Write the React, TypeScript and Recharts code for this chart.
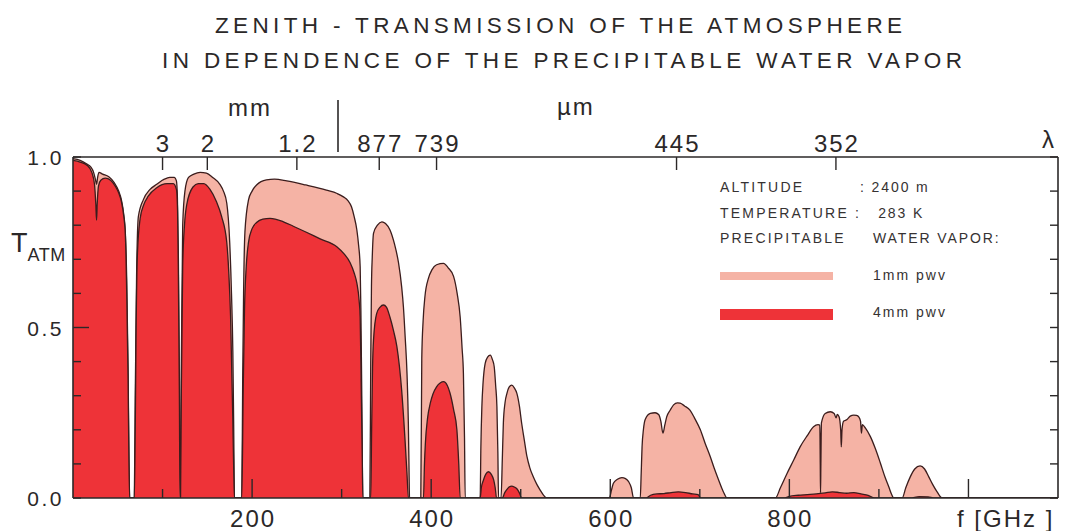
import React from 'react';
import { ComposedChart, Area, XAxis, YAxis } from 'recharts';

const INK = '#2b2828';
const OUTLINE = '#3b1d1d';
const PINK = '#f5b3a5';
const RED = '#ee3338';
const FONT = '"Liberation Sans", Arial, Helvetica, sans-serif';

// Zenith transmission with 1 mm precipitable water vapour: [frequency GHz, transmission]
const PWV_1MM: [number, number][] = [
  [0, 0.995], [8, 0.99], [15, 0.98], [20, 0.97], [23, 0.955], [25, 0.935], [26.3, 0.92], [27.5, 0.94], [29, 0.955], [33, 0.95], [40, 0.942], [46, 0.925], [51, 0.9], [54, 0.875], [56.5, 0.835], [58.5, 0.775], [60, 0.64], [61.5, 0.38], [62.5, 0.12], [63.3, 0],
  [68.5, 0], [69.5, 0.3], [71, 0.65], [73, 0.825], [78.6, 0.875], [86, 0.905], [93.5, 0.92], [102, 0.935], [108, 0.94], [113, 0.94], [115.5, 0.93], [116.6, 0.88], [117.7, 0.7], [118.8, 0.35], [119.5, 0],
  [120.1, 0], [121, 0.4], [122.5, 0.8], [125, 0.9], [129, 0.94], [135, 0.95], [142, 0.955], [149, 0.953], [156, 0.94], [164, 0.92], [168, 0.9], [171.7, 0.865], [175, 0.75], [177, 0.6], [178.5, 0.43], [179.5, 0.2], [180.3, 0],
  [188.5, 0], [189.5, 0.35], [190.5, 0.6], [192, 0.78], [196, 0.874], [200, 0.9], [205, 0.918], [216, 0.933], [225, 0.935], [238.7, 0.93], [260, 0.918], [283, 0.903], [295, 0.893], [302, 0.883], [307, 0.872], [311, 0.854], [314, 0.825], [317, 0.786], [319, 0.74], [320.7, 0.678], [321.5, 0.55], [322.5, 0.3], [323.7, 0],
  [331.5, 0], [332.5, 0.4], [333.3, 0.62], [334.2, 0.707], [335.6, 0.776], [340, 0.8], [345, 0.81], [349, 0.805], [354, 0.786], [359, 0.745], [363.5, 0.69], [367, 0.62], [369, 0.56], [371, 0.47], [373, 0.365], [374.5, 0.22], [375.3, 0.08], [375.8, 0],
  [388.4, 0], [389.5, 0.41], [391, 0.52], [393, 0.59], [397, 0.645], [400.8, 0.669], [406, 0.684], [413.8, 0.688], [419, 0.675], [425, 0.65], [429, 0.6], [432.4, 0.53], [434.5, 0.44], [436, 0.365], [437.2, 0.18], [438, 0],
  [454.7, 0], [455.5, 0.15], [456.6, 0.268], [458, 0.34], [460.3, 0.395], [463, 0.413], [466, 0.419], [468.5, 0.405], [470.4, 0.385], [472, 0.33], [473.4, 0.268], [474.5, 0.13], [475.2, 0],
  [478, 0], [479.5, 0.12], [480.6, 0.22], [482.5, 0.28], [484.6, 0.307], [487, 0.325], [490, 0.331], [493, 0.322], [495.7, 0.307], [498.5, 0.27], [501, 0.22], [504, 0.17], [507, 0.121], [510, 0.09], [514, 0.062], [518, 0.04], [521.8, 0.023], [525, 0.01], [529, 0],
  [599, 0], [601.5, 0.025], [603.5, 0.043], [608, 0.055], [613, 0.06], [617, 0.057], [620.5, 0.048], [623.5, 0.03], [626, 0],
  [633.5, 0], [634.5, 0.07], [635.5, 0.15], [637, 0.2], [639, 0.23], [644.7, 0.248], [650, 0.25], [654, 0.245], [656.5, 0.225], [658.8, 0.19], [661, 0.215], [663, 0.238], [667, 0.258], [670.7, 0.273], [675, 0.279], [678, 0.278], [683, 0.27], [689, 0.258], [694, 0.235], [700.6, 0.2], [706, 0.16], [711.7, 0.121], [716, 0.088], [721, 0.053], [726, 0.02], [730.4, 0],
  [784.4, 0], [790, 0.03], [797.4, 0.072], [805, 0.112], [812, 0.15], [820, 0.183], [827, 0.209], [832, 0.215], [834, 0.214], [834.5, 0.1], [834.8, 0.015], [835.2, 0.1], [835.8, 0.22], [840, 0.248], [845.8, 0.253], [850, 0.248], [852.2, 0.235], [853.5, 0.245], [855.5, 0.238], [857.3, 0.2], [858, 0.15], [858.8, 0.2], [860.5, 0.225], [864.4, 0.23], [868, 0.24], [871.8, 0.243], [875, 0.242], [877.5, 0.238], [879.5, 0.225], [880.5, 0.19], [881.5, 0.215], [885, 0.205], [890.5, 0.18], [896, 0.145], [901.7, 0.102], [907, 0.06], [911, 0.033], [914, 0.012], [916.6, 0],
  [926, 0], [930, 0.03], [935, 0.062], [940, 0.085], [946, 0.094], [951, 0.085], [955.7, 0.062], [960, 0.04], [965, 0.018], [970.6, 0],
  [1100, 0],
];

// Zenith transmission with 4 mm precipitable water vapour: [frequency GHz, transmission]
const PWV_4MM: [number, number][] = [
  [0, 0.99], [8, 0.985], [16, 0.975], [21, 0.955], [24, 0.92], [25.5, 0.86], [26.3, 0.815], [27, 0.86], [28.5, 0.915], [31, 0.932], [36, 0.938], [42, 0.932], [47, 0.915], [51, 0.895], [54, 0.87], [56.5, 0.83], [58.5, 0.77], [60, 0.6], [61.5, 0.35], [62.5, 0.1], [63.3, 0],
  [68.5, 0], [69.5, 0.2], [70.5, 0.5], [72, 0.72], [75, 0.82], [79, 0.86], [84, 0.885], [93.5, 0.91], [105, 0.922], [112, 0.922], [115.5, 0.905], [116.8, 0.84], [117.7, 0.65], [118.8, 0.3], [119.5, 0],
  [120.1, 0], [121, 0.32], [122.5, 0.68], [124.5, 0.8], [127, 0.86], [134, 0.912], [140, 0.922], [146, 0.922], [153, 0.905], [160, 0.87], [166, 0.825], [171.7, 0.75], [174, 0.66], [176, 0.53], [178.4, 0.24], [179.5, 0.08], [180.3, 0],
  [188.5, 0], [190, 0.3], [191.5, 0.55], [193.5, 0.68], [196, 0.75], [200, 0.79], [205, 0.808], [212, 0.818], [220, 0.82], [235, 0.81], [246, 0.797], [260, 0.78], [276, 0.76], [294.6, 0.737], [303, 0.715], [309.5, 0.69], [314, 0.66], [317, 0.63], [319.5, 0.58], [320.7, 0.53], [321.8, 0.34], [323, 0.12], [323.7, 0],
  [332.5, 0], [333.5, 0.2], [334.5, 0.38], [335.6, 0.463], [339, 0.54], [343, 0.56], [346.7, 0.566], [350, 0.56], [354, 0.53], [358, 0.49], [361.7, 0.444], [367, 0.317], [370.8, 0.17], [373, 0.07], [374.6, 0],
  [391.4, 0], [392.5, 0.1], [393.5, 0.16], [396, 0.235], [399, 0.278], [402, 0.305], [406, 0.326], [410, 0.337], [413.8, 0.341], [418, 0.33], [421, 0.308], [425, 0.26], [428.7, 0.2], [430.8, 0.1], [432.4, 0],
  [454.7, 0], [456, 0.03], [458.4, 0.053], [461, 0.07], [464, 0.077], [467, 0.07], [469.8, 0.053], [471.5, 0.03], [473, 0],
  [479.5, 0], [482, 0.015], [484.6, 0.025], [487, 0.032], [490, 0.035], [493, 0.032], [495.7, 0.027], [498.5, 0.015], [501, 0],
  [640, 0], [645, 0.008], [652, 0.012], [660, 0.013], [668, 0.016], [676, 0.018], [684, 0.016], [692, 0.012], [698, 0.01], [701, 0],
  [795, 0], [800, 0.005], [810, 0.008], [820, 0.01], [830, 0.012], [840, 0.015], [848, 0.018], [856, 0.016], [864, 0.014], [872, 0.016], [880, 0.012], [888, 0.008], [895, 0],
  [935, 0], [945, 0.004], [955, 0.003], [962, 0],
  [1100, 0],
];

const FREQ_DOMAIN: [number, number] = [0, 1100];
const FREQ_TICKS = [100, 200, 300, 400, 500, 600, 700, 800, 900, 1000];
const FREQ_LABELS = [200, 400, 600, 800];
// wavelength markers on the upper axis, placed at their frequencies
const WAVELENGTH_FREQS = [100, 150, 250, 342, 406, 674, 852];
const WAVELENGTH_LABELS = ['3', '2', '1.2', '877', '739', '445', '352'];
const T_TICKS = [0, 0.1, 0.2, 0.3, 0.4, 0.5, 0.6, 0.7, 0.8, 0.9, 1.0];
const T_LABELS: [number, string][] = [[0, '0.0'], [0.5, '0.5'], [1, '1.0']];
const CONDITIONS: [string, string, number][] = [
  ['ALTITUDE', ': 2400 m', 860],
  ['TEMPERATURE', ':   283 K', 855],
  ['PRECIPITABLE', 'WATER VAPOR:', 873],
];
const SERIES_LEGEND: [string, string][] = [
  ['1mm pwv', PINK],
  ['4mm pwv', RED],
];

// merge both series into one table; each row carries only its own series value
const table = [
  ...PWV_1MM.map(([f, t]) => ({ f, pwv1: t })),
  ...PWV_4MM.map(([f, t]) => ({ f, pwv4: t })),
].sort((a, b) => a.f - b.f);

const textBase = { fontFamily: FONT, fill: INK };

const BottomTick = (p: any) => {
  const { x, y, payload } = p;
  const v = payload.value as number;
  const major = v % 200 === 0;
  return (
    <g>
      <line x1={x} x2={x} y1={y} y2={y - (major ? 19 : 9)} stroke={INK} strokeWidth={1.4} />
      {FREQ_LABELS.includes(v) && (
        <text x={x + 1} y={y + 29} textAnchor="middle" fontSize={24} letterSpacing={2} {...textBase}>
          {v}
        </text>
      )}
    </g>
  );
};

const TopTick = (p: any) => {
  const { x, y, payload, index } = p;
  return (
    <g>
      <line x1={x} x2={x} y1={y} y2={y + 13} stroke={INK} strokeWidth={1.4} />
      <text x={x + 1} y={y - 5} textAnchor="middle" fontSize={24} letterSpacing={2} {...textBase}>
        {WAVELENGTH_LABELS[index] ?? String(payload.value)}
      </text>
    </g>
  );
};

const LeftTick = (p: any) => {
  const { x, y, payload } = p;
  const v = payload.value as number;
  const label = T_LABELS.find(([t]) => Math.abs(t - v) < 1e-6);
  const major = Math.abs(v - 0.5) < 1e-6;
  return (
    <g>
      <line x1={x} x2={x + (major ? 16 : 8)} y1={y} y2={y} stroke={INK} strokeWidth={1.4} />
      {label && (
        <text x={x - 9} y={y + 8} textAnchor="end" fontSize={21} letterSpacing={2.5} {...textBase}>
          {label[1]}
        </text>
      )}
    </g>
  );
};

const RightTick = (p: any) => {
  const { x, y } = p;
  return <line x1={x} x2={x - 8} y1={y} y2={y} stroke={INK} strokeWidth={1.4} />;
};

export default function App() {
  return (
    <div style={{ position: 'absolute', left: 0, top: 0, width: 1066, height: 531, background: '#fff' }}>
      <ComposedChart
        width={1066}
        height={531}
        data={table}
        margin={{ top: 117, right: 0, bottom: 3, left: 13 }}
      >
        <Area
          xAxisId="bottom"
          yAxisId="left"
          dataKey="pwv1"
          type="monotone"
          connectNulls
          fill={PINK}
          fillOpacity={1}
          stroke={OUTLINE}
          strokeWidth={1.3}
          dot={false}
          activeDot={false}
          isAnimationActive={false}
        />
        <Area
          xAxisId="bottom"
          yAxisId="left"
          dataKey="pwv4"
          type="monotone"
          connectNulls
          fill={RED}
          fillOpacity={1}
          stroke={OUTLINE}
          strokeWidth={1.3}
          dot={false}
          activeDot={false}
          isAnimationActive={false}
        />
        <XAxis
          xAxisId="bottom"
          dataKey="f"
          type="number"
          orientation="bottom"
          domain={FREQ_DOMAIN}
          allowDataOverflow
          ticks={FREQ_TICKS}
          interval={0}
          height={30}
          tickSize={0}
          tickMargin={0}
          tickLine={false}
          tick={<BottomTick />}
          axisLine={{ stroke: INK, strokeWidth: 1.6 }}
        />
        <XAxis
          xAxisId="top"
          dataKey="f"
          type="number"
          orientation="top"
          domain={FREQ_DOMAIN}
          allowDataOverflow
          ticks={WAVELENGTH_FREQS}
          interval={0}
          height={40}
          tickSize={0}
          tickMargin={0}
          tickLine={false}
          tick={<TopTick />}
          axisLine={{ stroke: INK, strokeWidth: 1.6 }}
        />
        <YAxis
          yAxisId="left"
          type="number"
          orientation="left"
          domain={[0, 1]}
          allowDataOverflow
          ticks={T_TICKS}
          interval={0}
          width={60}
          tickSize={0}
          tickMargin={0}
          tickLine={false}
          tick={<LeftTick />}
          axisLine={{ stroke: INK, strokeWidth: 1.6 }}
        />
        <YAxis
          yAxisId="right"
          type="number"
          orientation="right"
          domain={[0, 1]}
          allowDataOverflow
          ticks={T_TICKS}
          interval={0}
          width={8}
          tickSize={0}
          tickMargin={0}
          tickLine={false}
          tick={<RightTick />}
          axisLine={{ stroke: INK, strokeWidth: 1.6 }}
        />
      </ComposedChart>

      <svg
        width={1066}
        height={531}
        style={{ position: 'absolute', left: 0, top: 0, pointerEvents: 'none' }}
      >
        <g fontFamily={FONT} fill={INK}>
          <text x={215} y={33} fontSize={22.5} textLength={687} lengthAdjust="spacing">
            ZENITH - TRANSMISSION OF THE ATMOSPHERE
          </text>
          <text x={162} y={68} fontSize={22.5} textLength={800} lengthAdjust="spacing">
            IN DEPENDENCE OF THE PRECIPITABLE WATER VAPOR
          </text>

          <text x={228} y={116} fontSize={24} letterSpacing={2}>mm</text>
          <line x1={338} x2={338} y1={100} y2={152} stroke={INK} strokeWidth={1.6} />
          <text x={557} y={115} fontSize={24} letterSpacing={2}>µm</text>
          <text x={1042} y={148} fontSize={24}>λ</text>

          <text x={11} y={252} fontSize={27}>
            T
            <tspan dx={0} dy={9} fontSize={18} letterSpacing={0.5}>ATM</tspan>
          </text>

          <text x={957} y={527} fontSize={24} letterSpacing={2}>f [GHz ]</text>

          {CONDITIONS.map(([name, value, vx], i) => (
            <g key={name} fontSize={14} fill="#363232" letterSpacing={2.2}>
              <text x={720} y={192 + i * 25.5}>{name}</text>
              <text x={vx} y={192 + i * 25.5} letterSpacing={1.9} style={{ whiteSpace: 'pre' }}>{value}</text>
            </g>
          ))}
          {SERIES_LEGEND.map(([name, color], i) => (
            <g key={name}>
              <rect x={720} y={272 + i * 37} width={113} height={i === 0 ? 8 : 11} fill={color} />
              <text x={873} y={280 + i * 37} fontSize={14} fill="#363232" letterSpacing={2}>{name}</text>
            </g>
          ))}
        </g>
      </svg>
    </div>
  );
}
